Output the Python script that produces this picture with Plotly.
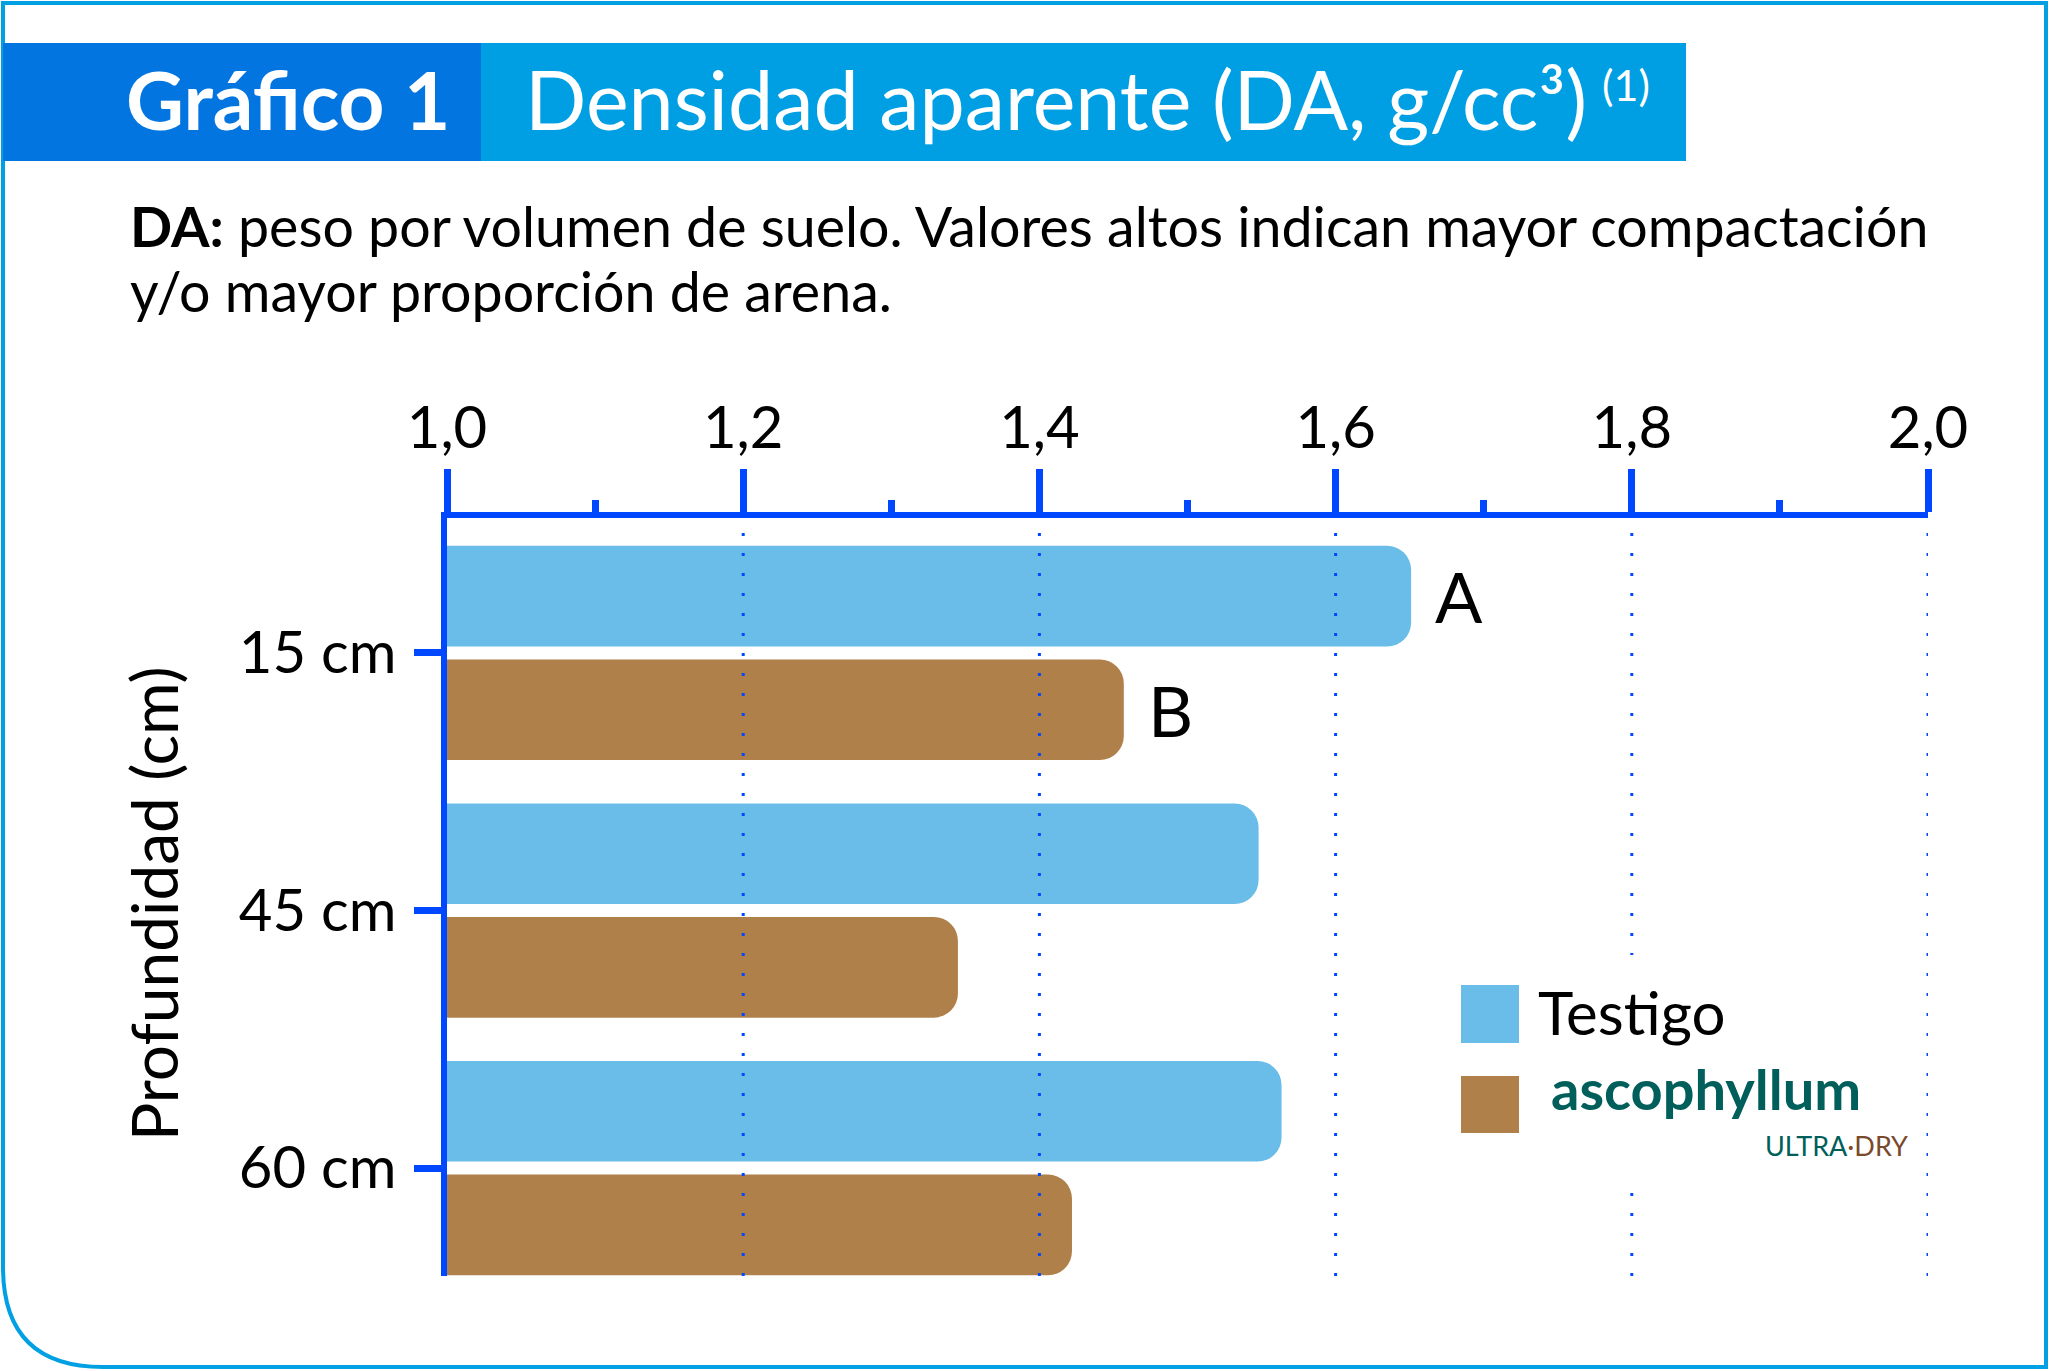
import plotly.graph_objects as go

# ---------------- data ----------------
DEPTHS = ["15 cm", "45 cm", "60 cm"]
TESTIGO = [1.651, 1.548, 1.5635]
ASCOPHYLLUM = [1.457, 1.345, 1.422]
SIG_LETTERS = {"Testigo": ("A", 0), "ascophyllum": ("B", 0)}  # letter, category index
X_TICKS = [1.0, 1.2, 1.4, 1.6, 1.8, 2.0]
SERIES_NAMES = ["Testigo", "ascophyllum"]

# ---------------- style ----------------
W, H = 2049, 1371
L, R, T, B = 447, 1928, 518, 1276
AXIS_BLUE = "#0048FF"
C_TESTIGO = "#69BDE8"
C_ASCO = "#B0804B"
TITLE_DARK = "#0375E0"
TITLE_LIGHT = "#009FE3"
BORDER = "#00A0E3"
TEAL = "#005F5B"
LOGO_BROWN = "#7A4A2C"
FONT = "Lato"
BAR_OFFSET_PX = 57  # half of a bar slot in the group


def px(x):
    return (x - L) / (R - L)


def py(y):
    return (B - y) / (B - T)


fig = go.Figure()
fig.add_trace(go.Bar(
    y=DEPTHS, x=TESTIGO, orientation="h", name=SERIES_NAMES[0],
    marker=dict(color=C_TESTIGO, line=dict(width=0), cornerradius=24), showlegend=False,
))
fig.add_trace(go.Bar(
    y=DEPTHS, x=ASCOPHYLLUM, orientation="h", name=SERIES_NAMES[1],
    marker=dict(color=C_ASCO, line=dict(width=0), cornerradius=24), showlegend=False,
))

shapes = []
# outer frame with rounded bottom-left corner
r_c = 100
x0f, x1f, y0f, y1f = 3, 2046, 3, 1367
path = (f"M {px(x0f)},{py(y0f)} L {px(x1f)},{py(y0f)} L {px(x1f)},{py(y1f)} "
        f"L {px(x0f + r_c)},{py(y1f)} Q {px(x0f)},{py(y1f)} {px(x0f)},{py(y1f - r_c)} Z")
shapes.append(dict(type="path", xref="paper", yref="paper", path=path,
                   line=dict(color=BORDER, width=4), fillcolor="rgba(0,0,0,0)", layer="below"))
# title bars
shapes.append(dict(type="rect", xref="paper", yref="paper", x0=px(3), x1=px(481),
                   y0=py(43), y1=py(161), fillcolor=TITLE_DARK, line=dict(width=0), layer="below"))
shapes.append(dict(type="rect", xref="paper", yref="paper", x0=px(481), x1=px(1686),
                   y0=py(43), y1=py(161), fillcolor=TITLE_LIGHT, line=dict(width=0), layer="below"))
# dotted gridlines above bars
for v in X_TICKS[1:]:
    shapes.append(dict(type="line", xref="x", yref="paper", x0=v, x1=v, y0=0, y1=0.985,
                       line=dict(color=AXIS_BLUE, width=3, dash="3px,17px"), layer="above"))
# legend background + swatches
shapes.append(dict(type="rect", xref="paper", yref="paper", x0=px(1440), x1=px(1915),
                   y0=py(1185), y1=py(955), fillcolor="white", line=dict(width=0), layer="above"))
shapes.append(dict(type="rect", xref="paper", yref="paper", x0=px(1461), x1=px(1519),
                   y0=py(1043), y1=py(985), fillcolor=C_TESTIGO, line=dict(width=0), layer="above"))
shapes.append(dict(type="rect", xref="paper", yref="paper", x0=px(1461), x1=px(1519),
                   y0=py(1133), y1=py(1076), fillcolor=C_ASCO, line=dict(width=0), layer="above"))

ann = []
ann.append(dict(text="<b>Gráfico 1</b>", x=px(124), y=py(99), xanchor="left", yanchor="middle",
                font=dict(family=FONT, size=80, color="white")))
ann.append(dict(text="Densidad aparente (DA, g/cc³)", x=px(523), y=py(99),
                xanchor="left", yanchor="middle", font=dict(family=FONT, size=80.8, color="white")))
ann.append(dict(text="(1)", x=px(1600), y=py(84), xanchor="left", yanchor="middle",
                font=dict(family=FONT, size=43, color="white")))
ann.append(dict(text="<b>DA:</b> peso por volumen de suelo. Valores altos indican mayor compactación",
                x=px(128), y=py(226), xanchor="left", yanchor="middle",
                font=dict(family=FONT, size=55.5, color="black")))
ann.append(dict(text="y/o mayor proporción de arena.", x=px(128), y=py(291), xanchor="left",
                yanchor="middle", font=dict(family=FONT, size=55.5, color="black")))
ann.append(dict(text="Profundidad (cm)", x=px(153), y=py(904), textangle=-90, xanchor="center",
                yanchor="middle", font=dict(family=FONT, size=64, color="black")))
ann.append(dict(text=SERIES_NAMES[0], x=px(1536), y=py(1012), xanchor="left", yanchor="middle",
                font=dict(family=FONT, size=60, color="black")))
ann.append(dict(text=f"<b>{SERIES_NAMES[1]}</b>", x=px(1549), y=py(1088), xanchor="left",
                yanchor="middle", font=dict(family=FONT, size=56, color=TEAL)))
ann.append(dict(text=f"<span style='color:{TEAL}'>ULTRA</span><span style='color:{LOGO_BROWN}'>·DRY</span>",
                x=px(1763), y=py(1145), xanchor="left", yanchor="middle",
                font=dict(family=FONT, size=27, color=TEAL)))
for a in ann:
    a.update(xref="paper", yref="paper", showarrow=False)

# significance letters next to the bars, positioned from the data
vals = {"Testigo": TESTIGO, "ascophyllum": ASCOPHYLLUM}
for i, name in enumerate(SERIES_NAMES):
    letter, idx = SIG_LETTERS[name]
    ann.append(dict(text=letter, x=vals[name][idx], y=DEPTHS[idx], xref="x", yref="y",
                    xanchor="left", yanchor="middle", xshift=22,
                    yshift=BAR_OFFSET_PX if i == 0 else -BAR_OFFSET_PX,
                    showarrow=False, font=dict(family=FONT, size=70, color="black")))

fig.update_layout(
    width=W, height=H,
    margin=dict(l=L, r=W - R, t=T, b=H - B, pad=0),
    paper_bgcolor="white", plot_bgcolor="white",
    barmode="group", bargap=0.1177, bargroupgap=0.1144,
    separators=", ",
    font=dict(family=FONT, color="black"),
    shapes=shapes, annotations=ann, showlegend=False,
    xaxis=dict(
        side="top", range=[X_TICKS[0], X_TICKS[-1]], tickvals=X_TICKS, tickformat=".1f",
        showgrid=False, zeroline=False, showline=True, linecolor=AXIS_BLUE, linewidth=6,
        ticks="outside", ticklen=43, tickwidth=7, tickcolor=AXIS_BLUE,
        tickfont=dict(family=FONT, size=58, color="black"), ticklabelstandoff=-2,
        minor=dict(dtick=0.1, ticks="outside", ticklen=12, tickwidth=7, tickcolor=AXIS_BLUE, showgrid=False),
    ),
    yaxis=dict(
        type="category", categoryorder="array", categoryarray=DEPTHS,
        range=[2.419, -0.524], showgrid=False, zeroline=False,
        showline=True, linecolor=AXIS_BLUE, linewidth=6,
        ticks="outside", ticklen=27, tickwidth=7, tickcolor=AXIS_BLUE,
        tickfont=dict(family=FONT, size=58, color="black"), ticklabelstandoff=6,
    ),
)

fig.write_html("out.html", config={"displayModeBar": False},
               post_script="document.body.style.margin='0';document.body.style.overflow='hidden';")
